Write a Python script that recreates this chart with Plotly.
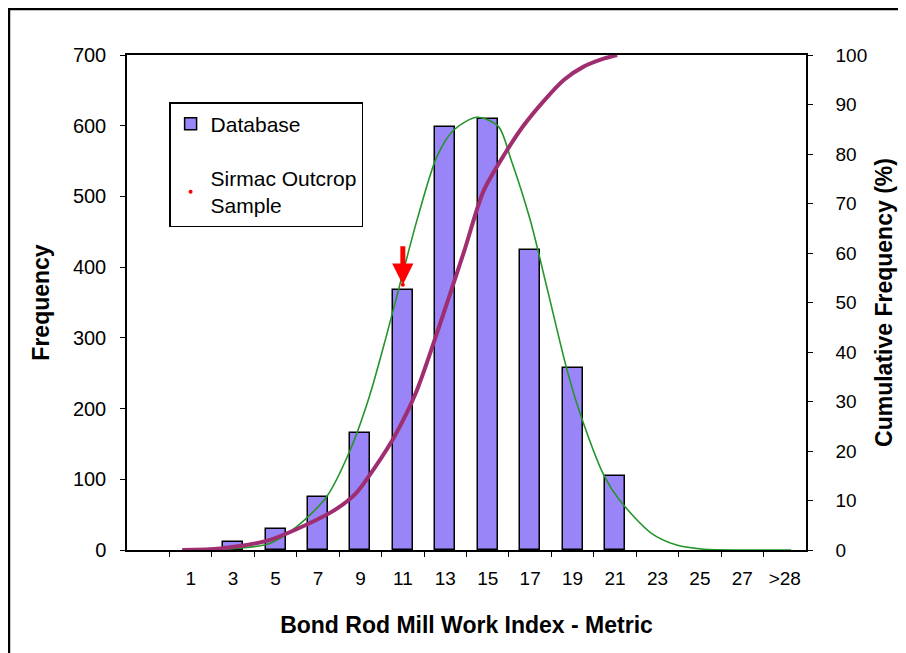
import plotly.graph_objects as go

# Bond rod mill work index histogram with fitted normal and cumulative curve
bin_labels = ["", "1", "3", "5", "7", "9", "11", "13", "15", "17", "19", "21", "23", "25", "27", ">28"]
bin_pos = [-1, 1, 3, 5, 7, 9, 11, 13, 15, 17, 19, 21, 23, 25, 27, 29]
frequency = [0, 0, 12, 29, 75, 165, 368, 598, 609, 424, 258, 105, 0, 0, 0, 0]

normal_x = [1, 3, 4.7, 6, 7.4, 8.5, 9.4, 10.2, 10.9, 11.7, 12.6, 13.4, 14.5, 15.5, 16.1,
            17, 17.8, 18.7, 19.3, 20.5, 21.2, 22.7, 23.9, 25.2, 27, 29.3]
normal_y = [0, 2, 9, 33, 75, 140, 215, 300, 380, 470, 556, 594, 612, 599, 552,
            467, 370, 259, 198, 104, 71, 24, 7, 1, 0, 0]

cum_x = [0.6, 2.4, 4.7, 6.6, 7.8, 8.8, 9.7, 10.6, 11.6, 12.7, 13.9, 14.8, 15.8,
         16.7, 17.7, 18.6, 19.5, 20.5, 21.1]
cum_y = [0, 0.3, 2, 5.4, 8.1, 11.5, 16.8, 22.9, 31.6, 45, 60.5, 72.5, 80,
         85.8, 91, 95, 97.6, 99.3, 100]

sample_x = [11]
sample_y = [375]

font = "Liberation Sans, Arial, sans-serif"

fig = go.Figure()

# empty bins are left blank like excel does
fig.add_trace(go.Bar(
    x=bin_pos, y=[v if v > 0 else None for v in frequency], name="Database", width=0.94,
    marker=dict(color="#9985f7", line=dict(color="black", width=1.5)),
    legendgroup="a",
))
fig.add_trace(go.Scatter(
    x=sample_x, y=sample_y, name="Sirmac Outcrop<br>Sample", mode="markers",
    marker=dict(color="red", size=4), legendgroup="b",
))
fig.add_trace(go.Scatter(
    x=normal_x, y=normal_y, mode="lines", showlegend=False,
    line=dict(color="#24952a", width=1.6, shape="spline", smoothing=0.8),
))
fig.add_trace(go.Scatter(
    x=cum_x, y=cum_y, mode="lines", showlegend=False, yaxis="y2",
    line=dict(color="#9e2e70", width=4, shape="spline", smoothing=0.8),
))

# boundary tick marks (excel style), labels sit on the bins
fig.add_trace(go.Scatter(x=[None], y=[None], xaxis="x2", showlegend=False))

fig.add_annotation(
    x=sample_x[0], y=sample_y[0], ax=0, ay=-40, text="", showarrow=True,
    arrowcolor="red", arrowwidth=5, arrowhead=2, arrowsize=0.85,
)

fig.add_shape(type="rect", xref="paper", yref="paper",
              x0=-0.1738, y0=-0.3, x1=1.25, y1=1.093,
              line=dict(color="black", width=2.5))

fig.update_layout(
    width=906, height=653,
    margin=dict(l=119, r=108, t=47, b=111),
    paper_bgcolor="white", plot_bgcolor="white",
    font=dict(family=font, size=19, color="black"),
    bargap=0,
    xaxis=dict(
        range=[-2, 30], tickvals=bin_pos, ticktext=bin_labels, ticks="",
        showline=True, linecolor="black", linewidth=1.5, mirror=True,
        showgrid=False, zeroline=False, ticklabelstandoff=10,
        title=dict(text="<b>Bond Rod Mill Work Index - Metric</b>", standoff=29),
    ),
    xaxis2=dict(
        range=[-2, 30], overlaying="x", anchor="y", side="bottom",
        tickvals=list(range(0, 30, 2)), ticks="outside", ticklen=6,
        tickcolor="black", showticklabels=False, showgrid=False,
        zeroline=False, showline=False,
    ),
    yaxis=dict(
        range=[0, 700], dtick=100, ticks="outside", ticklen=5, tickcolor="black",
        showline=True, linecolor="black", linewidth=1.5, mirror=True,
        showgrid=False, zeroline=False, ticklabelstandoff=10,
        tickfont=dict(size=20),
        title=dict(text="<b>Frequency</b>", standoff=17),
    ),
    yaxis2=dict(
        range=[0, 100], dtick=10, overlaying="y", side="right",
        ticks="outside", ticklen=5, tickcolor="black",
        showline=True, linecolor="black", linewidth=1.5,
        showgrid=False, zeroline=False, ticklabelstandoff=19,
        title=dict(text="<b>Cumulative Frequency (%)</b>", standoff=10),
    ),
    legend=dict(
        x=0.062, y=0.905, xanchor="left", yanchor="top",
        bordercolor="black", borderwidth=1.5, bgcolor="white",
        tracegroupgap=24, font=dict(family=font, size=21),
        itemwidth=30,
    ),
    showlegend=True,
)

fig.write_html("out.html")
